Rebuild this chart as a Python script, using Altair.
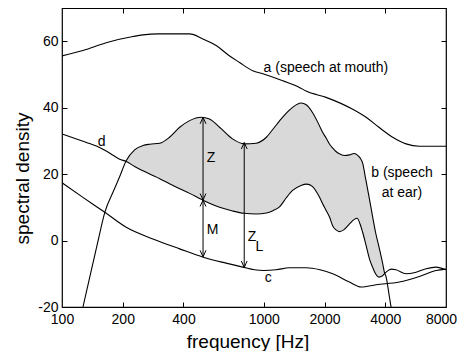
import altair as alt
import pandas as pd

# ---------------- data ----------------
# curve a: speech at mouth
a_freq = [100, 127, 169, 225, 252, 300, 429, 499, 581, 672, 758, 882, 989, 1242,
          1502, 1621, 2036, 2760, 3213, 3720, 4352, 5070, 5900, 8000]
a_val = [55.6, 57.2, 59.7, 61.4, 61.9, 62.2, 62.2, 60.7, 58.7, 55.7, 53.6, 51.1, 50.2, 48.1,
         46.1, 45.0, 43.1, 39.5, 37.1, 34.1, 31.1, 29.1, 28.4, 28.4]

# curve c
c_freq = [100, 127, 163, 208, 282, 383, 501, 650, 787, 900, 1000, 1150, 1340, 1620,
          1900, 2196, 2657, 3037, 3600, 4697, 5900, 7138, 8000]
c_val = [17.4, 13.0, 8.5, 4.0, 0.5, -2.5, -5.0, -6.8, -8.0, -8.8, -9.0, -8.8, -8.2, -8.2,
         -8.8, -10.0, -12.5, -14.0, -13.3, -12.5, -10.8, -9.0, -8.6]

# curves b (speech at ear) and d on a shared frequency grid
bd_freq = [100, 127, 137, 150, 163, 180, 193, 208, 229, 252, 272, 305, 341, 383, 429,
           490, 538, 604, 700, 800, 916, 1030, 1110, 1200, 1290, 1390, 1530, 1630, 1740,
           1890, 1960, 2040, 2120, 2200, 2280, 2370, 2500, 2660, 2800, 2900, 3000, 3090,
           3200, 3340, 3460, 3580, 3720, 3880, 3960, 4040, 4190, 4300, 4520, 5070, 5630,
           6370, 7140, 8000]
b_val = [None, -20.0, -11.2, -0.8, 8.5, 14.9, 19.2, 24.0, 27.3, 28.6, 29.0, 29.3, 31.1, 34.1, 36.1,
         37.1, 36.6, 34.1, 30.6, 29.1, 29.3, 31.1, 33.5, 36.1, 38.3, 40.1, 41.4, 40.8, 38.6,
         34.5, 32.5, 30.8, 29.0, 27.8, 26.8, 26.1, 25.6, 25.8, 26.2, 25.8, 24.9, 23.3,
         18.5, 12.5, 7.3, 2.5, -1.8, -6.8, -9.5, -11.0, -16.8, -21.0, None, None, None,
         None, None, None]
d_val = [32.1, 29.9, 29.2, 28.3, 27.2, 25.6, 24.5, 23.8, 22.3, 21.0, 20.0, 18.6, 17.1, 15.6, 14.2,
         12.4, 11.2, 10.0, 8.9, 8.2, 8.0, 8.3, 9.0, 10.2, 12.8, 15.1, 16.6, 17.0, 16.3,
         13.0, 11.0, 9.0, 7.0, 4.3, 3.2, 2.7, 3.3, 5.0, 6.3, 6.7, 5.0, 2.5,
         -1.0, -5.5, -8.0, -10.0, -11.0, -10.6, -10.0, -9.5, -8.8, -8.6, -8.8, -10.0, -9.6,
         -8.5, -8.0, -8.8]

# arrows Z, M, Z_L
arrow_x = [500, 500, 800]
arrow_lo = [12.2, -4.9, -8.1]
arrow_hi = [37.1, 12.2, 29.5]

# labels
label_text = ["a (speech at mouth)", "b (speech", "at ear)", "d", "c", "Z", "M", "Z", "L"]
label_freq = [2031, 4840, 4840, 157, 1053, 547, 557, 874, 952]
label_y = [51.8, 20.2, 14.2, 29.8, -11.4, 24.8, 3.2, 1.2, -1.9]

x_ticks = [100, 200, 400, 1000, 2000, 4000, 8000]
x_inner_ticks = [200, 400, 1000, 2000, 4000]
y_ticks = [-20, 0, 20, 40, 60]
y_inner_ticks = [0, 20, 40, 60]

# ---------------- chart ----------------
W, H = 384, 299
FONT = "Liberation Sans"

df_a = pd.DataFrame({"freq": a_freq, "val": a_val})
df_c = pd.DataFrame({"freq": c_freq, "val": c_val})
df_bd = pd.DataFrame({"freq": bd_freq, "b": b_val, "d": d_val})
df_arr = pd.DataFrame({"x": arrow_x, "lo": arrow_lo, "hi": arrow_hi})
df_lab = pd.DataFrame({"f": label_freq, "y": label_y, "t": label_text})

xs = alt.Scale(type="log", domain=[100, 8000], nice=False)
ys = alt.Scale(domain=[-20, 70], nice=False)

main_x = alt.Axis(values=x_ticks, labelExpr="'' + datum.value", ticks=False, tickSize=0,
                  domain=False, grid=False, labelFont=FONT, labelFontSize=14,
                  labelColor="black", labelPadding=5, labelFlush=False, labelOverlap=False,
                  labelOffset={"condition": {"test": "datum.value == 8000", "value": -5},
                               "value": 0},
                  title="frequency [Hz]", titleFont=FONT, titleFontSize=19,
                  titleFontWeight="normal", titleColor="black", titleX=185.5, titleY=40,
                  titleBaseline="alphabetic", titleAlign="center")
main_y = alt.Axis(values=y_ticks, labelExpr="'' + datum.value", ticks=False, tickSize=0,
                  domain=False, grid=False, labelFont=FONT, labelFontSize=14,
                  labelColor="black", labelPadding=4, labelOverlap=False,
                  title="spectral density", titleFont=FONT, titleFontSize=19,
                  titleFontWeight="normal", titleColor="black", titleX=-34, titleY=170,
                  titleBaseline="alphabetic", titleAlign="center", titleAngle=270)


def tick_axis(orient, off, vals):
    return alt.Axis(orient=orient, offset=off, values=vals, labels=False, domain=False,
                    grid=False, ticks=True, tickSize=5, tickColor="black", tickWidth=1,
                    title="")


line_kw = dict(color="black", strokeWidth=1.1, interpolate="monotone", clip=True)

area = alt.Chart(df_bd).transform_filter("datum.b != null && datum.b >= datum.d").mark_area(
    color="#d9d9d9", interpolate="monotone", clip=True
).encode(
    x=alt.X("freq:Q", scale=xs, axis=None),
    y=alt.Y("b:Q", scale=ys, axis=None),
    y2="d:Q",
)

line_a = alt.Chart(df_a).mark_line(**line_kw).encode(
    x=alt.X("freq:Q", scale=xs, axis=main_x),
    y=alt.Y("val:Q", scale=ys, axis=main_y),
)
line_b = alt.Chart(df_bd).transform_filter("datum.b != null").mark_line(**line_kw).encode(
    x=alt.X("freq:Q", scale=xs, axis=tick_axis("top", -H, x_inner_ticks)),
    y=alt.Y("b:Q", scale=ys, axis=tick_axis("right", -W, y_inner_ticks)),
)
line_c = alt.Chart(df_c).mark_line(**line_kw).encode(
    x=alt.X("freq:Q", scale=xs, axis=tick_axis("bottom", -H, x_inner_ticks)),
    y=alt.Y("val:Q", scale=ys, axis=tick_axis("left", -W, y_inner_ticks)),
)
line_d = alt.Chart(df_bd).mark_line(**line_kw).encode(
    x=alt.X("freq:Q", scale=xs, axis=None),
    y=alt.Y("d:Q", scale=ys, axis=None),
)

rules = alt.Chart(df_arr).mark_rule(color="black", strokeWidth=1).encode(
    x=alt.X("x:Q", scale=xs, axis=None),
    y=alt.Y("lo:Q", scale=ys, axis=None),
    y2="hi:Q",
)
heads_up = alt.Chart(df_arr).mark_point(
    shape="M-0.45,1L0,0L0.45,1", filled=False, color="black", strokeWidth=1, size=169, opacity=1
).encode(
    x=alt.X("x:Q", scale=xs, axis=None),
    y=alt.Y("hi:Q", scale=ys, axis=None),
)
heads_down = alt.Chart(df_arr).mark_point(
    shape="M-0.45,-1L0,0L0.45,-1", filled=False, color="black", strokeWidth=1, size=169, opacity=1
).encode(
    x=alt.X("x:Q", scale=xs, axis=None),
    y=alt.Y("lo:Q", scale=ys, axis=None),
)

labels = alt.Chart(df_lab).mark_text(
    font=FONT, fontSize=14, color="black", align="center", baseline="middle"
).encode(
    x=alt.X("f:Q", scale=xs, axis=None),
    y=alt.Y("y:Q", scale=ys, axis=None),
    text="t:N",
)

chart = alt.layer(
    area, line_a, line_b, line_c, line_d, rules, heads_up, heads_down, labels
).resolve_axis(
    x="independent", y="independent"
).properties(
    width=W, height=H,
    padding={"left": 54, "top": 0, "right": 11, "bottom": 44},
    autosize=alt.AutoSizeParams(type="none"),
    background="white",
).configure_view(stroke="black", strokeWidth=1.2)

chart.save("out.html", embed_options={"renderer": "svg", "actions": False})
